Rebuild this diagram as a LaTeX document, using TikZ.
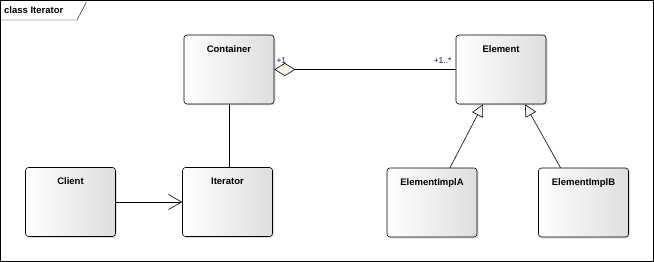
\documentclass[tikz,border=0pt]{standalone}
\usepackage{fontspec}
\setmainfont{Liberation Sans}
\usetikzlibrary{arrows.meta,shadows}
\definecolor{UmlFill}{RGB}{255,244,228}
\definecolor{UmlText}{RGB}{20,20,90}
\tikzset{
    classbox/.style={draw, rounded corners=3pt, minimum width=90pt, minimum height=69pt,
        left color=white, right color=black!13, line width=0.6pt,
        drop shadow={shadow xshift=1.5pt, shadow yshift=-1.5pt, opacity=0.25}},
    classname/.style={font=\fontsize{9.5}{11}\selectfont\bfseries, anchor=north, yshift=-7pt},
    rolename/.style={font=\fontsize{8.5}{10}\selectfont, text=UmlText, inner sep=1pt},
    link/.style={line width=0.6pt}
}
\begin{document}
\begin{tikzpicture}[x=1pt,y=-1pt]
            \useasboundingbox (0,0) rectangle (654,262);
            \coordinate (FrameTL) at (0.5,0.5);
            \coordinate (FrameBR) at (653.5,261.5);

            \draw[fill=white] (FrameTL) rectangle (FrameBR);
            \draw (0.5,20) -- (77,20) -- (86,3) -- (86,0.5);
            \node[font=\fontsize{9.5}{11}\selectfont\bfseries, anchor=west, inner sep=0pt] (FrameTitle) at (4,10.5) {class Iterator};

            \coordinate (ContainerPos) at (229,69.5);
            \coordinate (ElementPos) at (501,69.5);
            \coordinate (ClientPos) at (70.5,202);
            \coordinate (IteratorPos) at (227.5,202);
            \coordinate (ImplAPos) at (432,202.5);
            \coordinate (ImplBPos) at (583.5,202.5);

            \node[classbox, label={[classname]north:Container}] (Container) at (ContainerPos) {};
            \node[classbox, label={[classname]north:Element}] (Element) at (ElementPos) {};
            \node[classbox, label={[classname]north:Client}] (Client) at (ClientPos) {};
            \node[classbox, label={[classname]north:Iterator}] (Iterator) at (IteratorPos) {};
            \node[classbox, label={[classname]north:ElementImplA}] (ImplA) at (ImplAPos) {};
            \node[classbox, label={[classname]north:ElementImplB}] (ImplB) at (ImplBPos) {};

            \draw[link, {Diamond[fill=UmlFill, length=21pt, width=13pt]}-] (Container.east) -- (Element.west);
            \node[rolename, anchor=south west] (RoleOne) at ([xshift=1pt,yshift=5pt]Container.east) {+1};
            \node[rolename, anchor=south east] (RoleMany) at ([xshift=-3pt,yshift=5pt]Element.west) {+1..*};
            \draw[link] (Container.south) -- (Container.south |- Iterator.north);
            \draw[link, -{Straight Barb[length=13pt, width=15pt]}] (Client.east) -- (Iterator.west);
            \draw[link, -{Triangle[fill=UmlFill, length=12pt, width=12pt]}] ([xshift=18pt]ImplA.north) -- ([xshift=-18pt]Element.south);
            \draw[link, -{Triangle[fill=UmlFill, length=12pt, width=12pt]}] ([xshift=-23pt]ImplB.north) -- ([xshift=24pt]Element.south);
        \end{tikzpicture}
\end{document}
